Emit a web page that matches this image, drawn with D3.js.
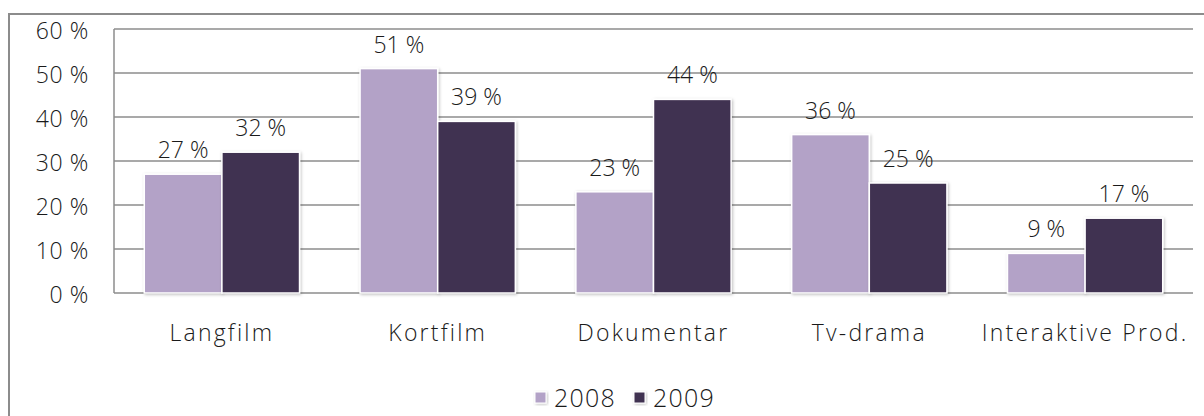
<!DOCTYPE html>
<html>
<head>
<meta charset="utf-8">
<script src="https://cdn.jsdelivr.net/npm/d3@7"></script>
<style>
  body { margin: 0; background: #fff; }
  text { font-family: "Open Sans", sans-serif; font-weight: 300; fill: #1a1a1a; }
</style>
</head>
<body>
<script>
const categories = ['Langfilm', 'Kortfilm', 'Dokumentar', 'Tv-drama', 'Interaktive Prod.'];
const years = ['2008', '2009'];
const values2008 = [27, 51, 23, 36, 9];
const values2009 = [32, 39, 44, 25, 17];
const yTicks = [0, 10, 20, 30, 40, 50, 60];
const colors = ['#b3a2c7', '#403151'];

const svgWidth = 1204;
const svgHeight = 416;
const margin = { left: 114, right: 11, top: 29, bottom: 123 };
const width = svgWidth - margin.left - margin.right;
const height = svgHeight - margin.top - margin.bottom;

const svg = d3.select('body')
.append('svg')
.attr('width', svgWidth)
.attr('height', svgHeight)

// soft shadow under the bars
const defs = svg.append('defs');
const shadow = defs.append('filter')
.attr('id', 'shadow')
.attr('x', '-10%').attr('y', '-10%')
.attr('width', '130%').attr('height', '130%')
shadow.append('feDropShadow')
.attr('dx', 1).attr('dy', 1)
.attr('stdDeviation', 1.5)
.attr('flood-color', '#000')
.attr('flood-opacity', 0.25)

// outer chart border
svg.append('rect')
.attr('x', 9)
.attr('y', 14)
.attr('width', svgWidth + 10)
.attr('height', svgHeight + 10)
.attr('fill', 'none')
.attr('stroke', '#8c8c8c')
.attr('stroke-width', 2)

const g = svg.append('g')
.attr('transform', `translate(${margin.left}, ${margin.top})`)

const x = d3.scaleBand()
.domain(categories)
.range([0, width])

const xInner = d3.scaleBand()
.domain(years)
.range([0, x.bandwidth()])
.paddingOuter(0.39)

const y = d3.scaleLinear()
.domain([0, 60])
.range([height, 0])

// gridlines
g.append('g')
.selectAll('line')
.data(yTicks)
.enter()
.append('line')
.attr('x1', 0)
.attr('x2', width)
.attr('y1', (d) => y(d))
.attr('y2', (d) => y(d))
.attr('stroke', '#8c8c8c')
.attr('stroke-width', 1.5)

g.append('line')
.attr('x1', 0).attr('x2', 0)
.attr('y1', 0).attr('y2', height)
.attr('stroke', '#8c8c8c')
.attr('stroke-width', 1.5)

// y axis labels
const yAxis = d3.axisLeft(y)
.tickValues(yTicks)
.tickSize(0)
.tickPadding(25)
.tickFormat((d) => `${d} %`)

g.append('g')
.call(yAxis)
.call((sel) => sel.select('.domain').remove())
.selectAll('text')
.attr('font-size', 23)
.attr('letter-spacing', 0.6)
.attr('font-family', null)
.attr('fill', null)
.attr('dy', '0.42em')

// x axis labels
const xAxis = d3.axisBottom(x)
.tickSize(0)
.tickPadding(32)

g.append('g')
.attr('transform', `translate(0, ${height})`)
.call(xAxis)
.call((sel) => sel.select('.domain').remove())
.selectAll('text')
.attr('font-size', 23)
.attr('letter-spacing', 2.2)
.attr('font-family', null)
.attr('fill', null)

const rows = [];
categories.forEach((c, i) => {
    rows.push({ cat: c, year: '2008', value: values2008[i], color: colors[0] });
    rows.push({ cat: c, year: '2009', value: values2009[i], color: colors[1] });
})

const bars = g.append('g')

bars.selectAll('rect')
.data(rows).enter()
.append('rect')
.attr('x', (d) => x(d.cat) + xInner(d.year))
.attr('y', (d) => y(d.value))
.attr('width', xInner.bandwidth())
.attr('height', (d) => height - y(d.value))
.attr('fill', (d) => d.color)
.attr('stroke', '#fff')
.attr('stroke-width', 1.5)
.attr('filter', 'url(#shadow)')

bars.selectAll('text')
.data(rows).enter()
.append('text')
.attr('x', (d) => x(d.cat) + xInner(d.year) + xInner.bandwidth() / 2)
.attr('y', (d) => y(d.value) - 16)
.attr('text-anchor', 'middle')
.attr('font-size', 23)
.text((d) => `${d.value} %`)

// legend
const legend = svg.append('g')
.attr('transform', 'translate(535, 392)')

const legendItems = legend.selectAll('g')
.data(years).enter()
.append('g')
.attr('transform', (d, i) => `translate(${i * 99}, 0)`)

legendItems.append('rect')
.attr('width', 11)
.attr('height', 11)
.attr('fill', (d, i) => colors[i])
.attr('stroke', '#fff')
.attr('stroke-width', 1)
.attr('filter', 'url(#shadow)')

legendItems.append('text')
.attr('x', 19)
.attr('y', 15)
.attr('font-size', 25)
.attr('letter-spacing', 1.2)
.text((d) => d)
</script>
</body>
</html>
